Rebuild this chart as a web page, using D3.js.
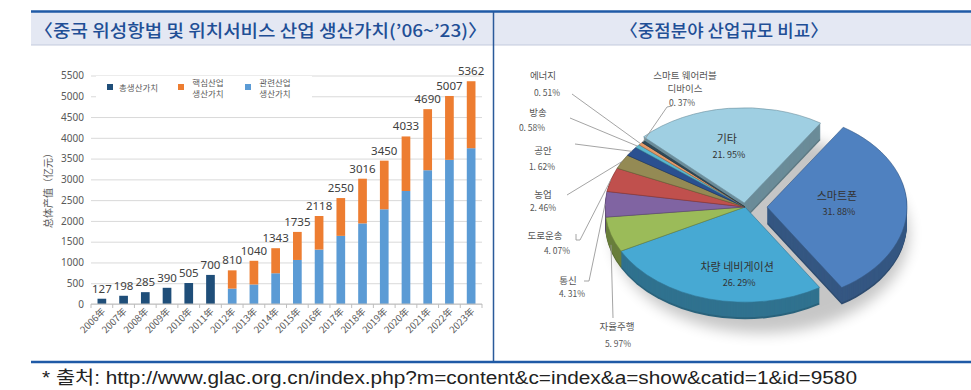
<!DOCTYPE html>
<html>
<head>
<meta charset="utf-8">
<script src="https://cdn.jsdelivr.net/npm/d3@7"></script>
<style>
    body { margin: 0; background: #fff; }
    svg { display: block; }
    text { font-family: "Noto Sans CJK KR", "Noto Sans", sans-serif; }
</style>
</head>
<body>
<svg id="chart" width="971" height="390"></svg>
<script>
/* bar chart data */
const years = ["2006年", "2007年", "2008年", "2009年", "2010年", "2011年", "2012年", "2013年", "2014年",
    "2015年", "2016年", "2017年", "2018年", "2019年", "2020年", "2021年", "2022年", "2023年"];
const totalValue = [127, 198, 285, 390, 505, 700, 810, 1040, 1343, 1735, 2118, 2550, 3016, 3450, 4033, 4690, 5007, 5362];
const relatedValue = [0, 0, 0, 0, 0, 0, 370, 470, 740, 1060, 1310, 1640, 1940, 2280, 2720, 3220, 3470, 3750];
const coreValue = [0, 0, 0, 0, 0, 0, 440, 570, 603, 675, 808, 910, 1076, 1170, 1313, 1470, 1537, 1612];
const yTicks = [0, 500, 1000, 1500, 2000, 2500, 3000, 3500, 4000, 4500, 5000, 5500];
const seriesNames = [["총생산가치"], ["핵심산업", "생산가치"], ["관련산업", "생산가치"]];
const yTitle = "总体产值（亿元）";

/* pie data */
const pieNames = ["스마트폰", "차량 네비게이션", "자율주행", "통신", "도로운송", "농업", "공안", "방송", "에너지", "스마트 웨어러블 디바이스", "기타"];
const pieValues = [31.88, 26.29, 5.97, 4.31, 4.07, 2.46, 1.62, 0.58, 0.51, 0.37, 21.95];
const pieLabels = ["31. 88%", "26. 29%", "5. 97%", "4. 31%", "4. 07%", "2. 46%", "1. 62%", "0. 58%", "0. 51%", "0. 37%", "21. 95%"];

const titleLeft = "〈중국 위성항법 및 위치서비스 산업 생산가치(’06~’23)〉";
const titleRight = "〈중점분야 산업규모 비교〉";
const source = "* 출처: http://www.glac.org.cn/index.php?m=content&c=index&a=show&catid=1&id=9580";

const seriesColors = ["#1f4e79", "#ed7d31", "#5b9bd5"];
const pieColors = ["#4f81c0", "#47a9d3", "#9bbb59", "#8064a2", "#c0504d", "#948a54", "#2a5090", "#58b7cf", "#e49a68", "#2e4b5c", "#9fcfe2"];

const svg = d3.select("#chart");
const blue = "#1f5aa6";

/* frame: header band, rules, divider */
svg.append("rect").attr("x", 31).attr("y", 12).attr("width", 940).attr("height", 33).attr("fill", "#e4e8f3");
svg.append("line").attr("x1", 31).attr("x2", 971).attr("y1", 45).attr("y2", 45).attr("stroke", "#c3cadc").attr("stroke-width", 1);
svg.append("line").attr("x1", 31).attr("x2", 971).attr("y1", 11.5).attr("y2", 11.5).attr("stroke", blue).attr("stroke-width", 2.5);
svg.append("line").attr("x1", 31).attr("x2", 971).attr("y1", 362).attr("y2", 362).attr("stroke", blue).attr("stroke-width", 2.5);
svg.append("line").attr("x1", 493.5).attr("x2", 493.5).attr("y1", 12).attr("y2", 361).attr("stroke", "#2a5a9a").attr("stroke-width", 1.5);

svg.append("text").attr("x", 34).attr("y", 37).attr("font-size", 17).attr("font-weight", 500)
    .attr("fill", "#1f4f96").attr("textLength", 453).attr("lengthAdjust", "spacingAndGlyphs").text(titleLeft);
svg.append("text").attr("x", 620).attr("y", 37).attr("font-size", 17).attr("font-weight", 500)
    .attr("fill", "#1f4f96").attr("textLength", 208).attr("lengthAdjust", "spacingAndGlyphs").text(titleRight);
svg.append("text").attr("x", 42).attr("y", 384).attr("font-size", 18)
    .attr("fill", "#222").style("font-family", "'Liberation Sans', 'Noto Sans CJK KR', sans-serif")
    .attr("textLength", 815).attr("lengthAdjust", "spacingAndGlyphs").text(source);

/* ---------- stacked bar chart ---------- */
const x = d3.scaleBand().domain(years).range([91, 482]).paddingInner(0.6).paddingOuter(0.3);
const y = d3.scaleLinear().domain([0, 5500]).range([304, 75.5]);

const bars = svg.append("g").attr("id", "bars");

bars.append("g")
    .attr("transform", "translate(91,0)")
    .call(d3.axisLeft(y).tickValues(yTicks).tickSize(-391).tickFormat(""))
    .call((g) => g.select(".domain").remove())
    .call((g) => g.selectAll("line").attr("stroke", "#d9d9d9"));

bars.append("g")
    .attr("transform", "translate(86,0)")
    .call(d3.axisLeft(y).tickValues(yTicks).tickSize(0).tickPadding(2).tickFormat(d3.format("d")))
    .call((g) => g.select(".domain").remove())
    .call((g) => g.selectAll("text").attr("font-size", 10).attr("fill", "#595959")
        .style("font-family", "'Noto Sans', sans-serif"));

bars.append("text")
    .attr("transform", "translate(52,188) rotate(-90)")
    .attr("text-anchor", "middle").attr("font-size", 10).attr("fill", "#595959")
    .style("font-family", "'Noto Sans CJK SC', sans-serif")
    .text(yTitle);

/* legend sits on a white box over the grid */
const legend = bars.append("g");
legend.append("rect").attr("x", 96).attr("y", 76).attr("width", 216).attr("height", 25).attr("fill", "#fff");
const legendX = [107, 178, 245];
seriesNames.forEach((name, i) => {
    legend.append("rect").attr("x", legendX[i]).attr("y", 84).attr("width", 6).attr("height", 6).attr("fill", seriesColors[i]);
    name.forEach((line, j) => {
        legend.append("text")
            .attr("x", legendX[i] + (name.length > 1 ? 30 : 12))
            .attr("y", name.length > 1 ? 86 + j * 11 : 90.5)
            .attr("text-anchor", name.length > 1 ? "middle" : "start")
            .attr("font-size", 8.5).attr("fill", "#595959")
            .text(line);
    });
});

const stack = bars.append("g");
years.forEach((yr, i) => {
    const bx = x(yr);
    const bw = x.bandwidth();
    if (relatedValue[i] === 0) {
        stack.append("rect").attr("x", bx).attr("width", bw)
            .attr("y", y(totalValue[i])).attr("height", y(0) - y(totalValue[i])).attr("fill", seriesColors[0]);
    } else {
        stack.append("rect").attr("x", bx).attr("width", bw)
            .attr("y", y(relatedValue[i])).attr("height", y(0) - y(relatedValue[i])).attr("fill", seriesColors[2]);
        stack.append("rect").attr("x", bx).attr("width", bw)
            .attr("y", y(relatedValue[i] + coreValue[i])).attr("height", y(relatedValue[i]) - y(relatedValue[i] + coreValue[i]))
            .attr("fill", seriesColors[1]);
    }
    stack.append("text")
        .attr("x", bx + bw / 2).attr("y", y(totalValue[i]) - 6)
        .attr("text-anchor", "middle").attr("font-size", 11.5).attr("fill", "#404040")
        .style("font-family", "'Noto Sans', sans-serif")
        .text(totalValue[i]);
});

/* x axis with ticks between categories */
const xAxis = bars.append("g").attr("transform", "translate(0,304)");
xAxis.append("line").attr("x1", 91).attr("x2", 482).attr("stroke", "#bfbfbf");
xAxis.selectAll("line.tick").data(d3.range(years.length + 1)).join("line")
    .attr("class", "tick")
    .attr("x1", (d) => 91 + d * x.step()).attr("x2", (d) => 91 + d * x.step())
    .attr("y1", 0).attr("y2", 4).attr("stroke", "#bfbfbf");
xAxis.selectAll("text").data(years).join("text")
    .attr("transform", (d) => `translate(${x(d) + x.bandwidth() / 2 + 4},8) rotate(-45)`)
    .attr("text-anchor", "end").attr("font-size", 9.5).attr("fill", "#595959")
    .style("font-family", "'Noto Sans CJK SC', sans-serif")
    .text((d) => d);

/* ---------- 3D exploded pie ---------- */
const cx = 745, cy = 207, rx = 140, k = 0.68, depth = 17;
const explode = { "스마트폰": 22, "기타": 6 };

const defs = svg.append("defs");
defs.append("filter").attr("id", "blur").attr("x", "-30%").attr("y", "-30%").attr("width", "160%").attr("height", "160%")
    .append("feGaussianBlur").attr("stdDeviation", 7);

const pieG = svg.append("g").attr("transform", `translate(${cx},${cy})`);
pieG.append("ellipse").attr("cx", 16).attr("cy", depth + 10).attr("rx", rx + 8).attr("ry", rx * k + 4)
    .attr("fill", "#000").attr("opacity", 0.22).attr("filter", "url(#blur)");

const a0 = 33 * Math.PI / 180;
const pie = d3.pie().sort(null).startAngle(a0).endAngle(a0 + 2 * Math.PI);
const arcs = pie(pieValues).map((d, i) => {
    const mid = (d.startAngle + d.endAngle) / 2;
    const e = explode[pieNames[i]] || 0;
    return Object.assign(d, { name: pieNames[i], mid: mid, ox: e * Math.sin(mid), oy: -e * Math.cos(mid) * k, color: pieColors[i] });
});
const arc = d3.arc().innerRadius(0).outerRadius(rx);

for (let d = depth; d >= 1; d--) {
    pieG.append("g").selectAll("path").data(arcs).join("path")
        .attr("transform", (s) => `translate(${s.ox},${s.oy + d}) scale(1,${k})`)
        .attr("d", arc)
        .attr("fill", (s) => d3.color(s.color).darker(d > depth - 2 ? 1.5 : 1.1));
}
pieG.append("g").selectAll("path").data(arcs).join("path")
    .attr("transform", (s) => `translate(${s.ox},${s.oy}) scale(1,${k})`)
    .attr("d", arc)
    .attr("fill", (s) => s.color)
    .attr("stroke", (s) => d3.color(s.color).darker(1))
    .attr("stroke-width", 0.6)
    .attr("vector-effect", "non-scaling-stroke");

/* labels inside the big slices */
const innerShift = { "기타": [-8, 0, 0.6], "스마트폰": [0, -4, 0.5], "차량 네비게이션": [14, 12, 0.6] };
arcs.filter((s) => innerShift[s.name]).forEach((s) => {
    const [dx, dy, f] = innerShift[s.name];
    const px = s.ox + f * rx * Math.sin(s.mid) + dx;
    const py = s.oy - f * rx * k * Math.cos(s.mid) + dy;
    pieG.append("text").attr("x", px).attr("y", py - 3).attr("text-anchor", "middle")
        .attr("font-size", 11).attr("fill", "#333").text(s.name);
    pieG.append("text").attr("x", px + 2).attr("y", py + 12).attr("text-anchor", "middle")
        .attr("font-size", 9).attr("fill", "#333").text(pieLabels[s.index]);
});

/* outer labels with leader lines (page coordinates) */
const outer = {
    "에너지": { lines: ["에너지"], nx: 543, ny: 79, px: 547, py: 96, path: [[572, 94]] },
    "스마트 웨어러블 디바이스": { lines: ["스마트 웨어러블", "디바이스"], nx: 685, ny: 79, px: 682, py: 106, path: [[672, 106], [667, 107]] },
    "방송": { lines: ["방송"], nx: 538, ny: 116, px: 532, py: 131, path: [[570, 118]] },
    "공안": { lines: ["공안"], nx: 543, ny: 154, px: 542, py: 170, path: [[575, 144]] },
    "농업": { lines: ["농업"], nx: 543, ny: 198, px: 543, py: 211, path: [[567, 195]] },
    "도로운송": { lines: ["도로운송"], nx: 545, ny: 239, px: 557, py: 254, path: [[576, 234], [576, 240], [580, 240]] },
    "통신": { lines: ["통신"], nx: 568, ny: 284, px: 572, py: 297, path: [[584, 281], [589, 281]] },
    "자율주행": { lines: ["자율주행"], nx: 617, ny: 330, px: 618, py: 347, path: [[613, 318]] }
};
const leaders = svg.append("g");
arcs.filter((s) => outer[s.name]).forEach((s) => {
    const o = outer[s.name];
    const ex = cx + s.ox + rx * Math.sin(s.mid);
    const ey = cy + s.oy - rx * k * Math.cos(s.mid) + (Math.cos(s.mid) < 0 ? depth * 0.6 : 0);
    leaders.append("path")
        .attr("d", d3.line()(o.path.concat([[ex, ey]])))
        .attr("fill", "none").attr("stroke", "#9a9a9a").attr("stroke-width", 0.9);
    o.lines.forEach((line, j) => {
        leaders.append("text").attr("x", o.nx).attr("y", o.ny + j * 12.5).attr("text-anchor", "middle")
            .attr("font-size", 9.5).attr("fill", "#555").text(line);
    });
    leaders.append("text").attr("x", o.px).attr("y", o.py).attr("text-anchor", "middle")
        .attr("font-size", 8.5).attr("fill", "#555").text(pieLabels[s.index]);
});
</script>
</body>
</html>
